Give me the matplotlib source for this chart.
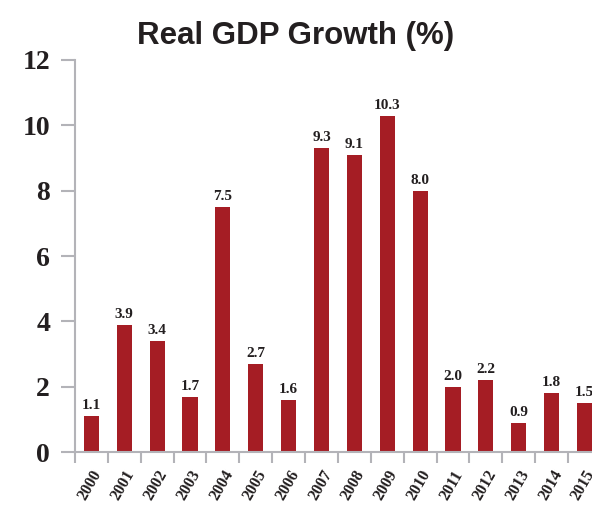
import matplotlib
matplotlib.use('Agg')
import matplotlib.pyplot as plt
import numpy as np

years = ['2000', '2001', '2002', '2003', '2004', '2005', '2006', '2007',
         '2008', '2009', '2010', '2011', '2012', '2013', '2014', '2015']
growth = [1.1, 3.9, 3.4, 1.7, 7.5, 2.7, 1.6, 9.3, 9.1, 10.3, 8.0, 2.0, 2.2, 0.9, 1.8, 1.5]

bar_color = '#a51d24'
text_color = '#231f20'
axis_color = '#b3b3b8'
serif = 'Liberation Serif'

fig = plt.figure(figsize=(5.92, 5.08), dpi=100)
ax = fig.add_axes([0.1267, 0.110, 0.8733, 0.772])

x = np.arange(len(years))
bars = ax.bar(x, growth, width=0.46, color=bar_color, zorder=2)

# value labels above each bar
for xi, v in zip(x, growth):
    ax.text(xi, v + 0.12, '{:.1f}'.format(v), ha='center', va='bottom',
            family=serif, fontweight='bold', fontsize=11, color=text_color)

ax.set_xlim(-0.5, 15.23)
ax.set_ylim(0, 12)
ax.set_yticks(range(0, 13, 2))
ax.set_yticklabels([str(t) for t in range(0, 13, 2)], family=serif,
                   fontweight='bold', fontsize=20, color=text_color)

# labels at bar centres, tick marks at category boundaries
ax.set_xticks(x)
ax.set_xticklabels(years, rotation=60, ha='right', rotation_mode='anchor',
                   family=serif, fontweight='bold', fontsize=11.5, color=text_color)
ax.set_xticks(x - 0.5, minor=True)
ax.tick_params(axis='x', which='major', length=0, pad=11)
ax.tick_params(axis='x', which='minor', length=8, width=1.5, color=axis_color)
ax.tick_params(axis='y', length=10, width=1.5, color=axis_color, pad=8)

for side in ['top', 'right']:
    ax.spines[side].set_visible(False)
for side in ['left', 'bottom']:
    ax.spines[side].set_color(axis_color)
    ax.spines[side].set_linewidth(1.5)

fig.text(0.5, 0.93, 'Real GDP Growth (%)', ha='center', va='center',
         family='Liberation Sans', fontweight='bold', fontsize=22.5, color=text_color)

fig.savefig('out.png', dpi=100)
